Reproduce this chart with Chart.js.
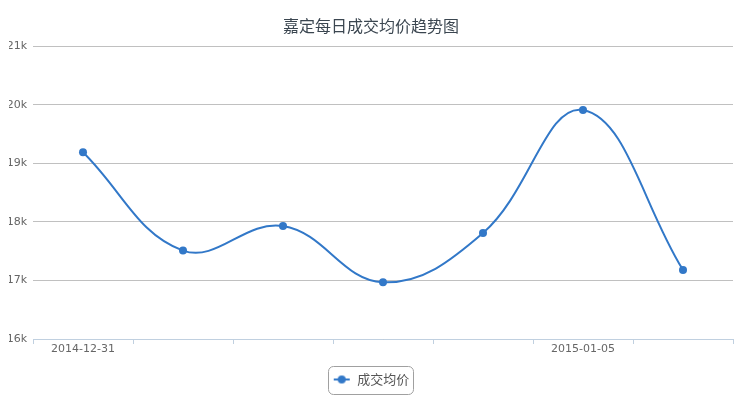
<!DOCTYPE html>
<html><head><meta charset="utf-8">
<script src="https://cdn.jsdelivr.net/npm/chart.js@4"></script>
<style>html,body{margin:0;padding:0;background:#fff}#wrap{width:742px;height:397px}</style>
</head><body><div id="wrap"><canvas id="c" width="742" height="397"></canvas></div>
<script>
const titleText = '嘉定每日成交均价趋势图';
const seriesName = '成交均价';
const categories = ['2014-12-31','2015-01-01','2015-01-02','2015-01-03','2015-01-04','2015-01-05','2015-01-06'];
const avgPrice = [19190, 17510, 17930, 16970, 17810, 19910, 17180];
const yMin = 16000, yMax = 21000, yStep = 1000;
const shownLabelEvery = 5;

const lineColor = '#3278c8';

// legend symbol: short line with a dot
const sym = document.createElement('canvas');
sym.width = 18; sym.height = 10;
(function(){
  const g = sym.getContext('2d');
  g.strokeStyle = lineColor; g.lineWidth = 2;
  g.beginPath(); g.moveTo(1,5); g.lineTo(17,5); g.stroke();
  g.fillStyle = lineColor; g.beginPath(); g.arc(9,5,4,0,Math.PI*2); g.fill();
})();

const legendBorder = {
  id: 'legendBorder',
  afterDraw(chart){
    const hb = chart.legend && chart.legend.legendHitBoxes;
    if(!hb || !hb.length) return;
    const b = hb[0];
    const ctx = chart.ctx;
    const x = Math.round(b.left - 5), y = Math.round(b.top - 7), w = Math.round(b.width + 8), h = 28;
    ctx.save();
    ctx.strokeStyle = '#a0a0a0'; ctx.lineWidth = 1;
    ctx.beginPath(); ctx.roundRect(x + 0.5, y + 0.5, w, h, 5); ctx.stroke();
    ctx.restore();
  }
};

new Chart(document.getElementById('c'), {
  type: 'line',
  data: {
    labels: categories,
    datasets: [{
      label: seriesName,
      data: avgPrice,
      borderColor: lineColor,
      backgroundColor: lineColor,
      borderWidth: 2,
      pointRadius: 4,
      pointBorderWidth: 0,
      pointBackgroundColor: lineColor,
      pointStyle: 'circle',
      tension: 0.4,
      fill: false
    }]
  },
  options: {
    responsive: false,
    animation: false,
    layout: { padding: { left: 9, right: 9, top: 0, bottom: 1 } },
    plugins: {
      tooltip: { enabled: false },
      title: {
        display: true, text: titleText, color: '#3b4650',
        font: { family: '"Noto Sans CJK SC", sans-serif', size: 16, weight: 'normal' },
        padding: { top: 16, bottom: 11 }
      },
      legend: {
        position: 'bottom',
        labels: {
          usePointStyle: true, pointStyle: sym, pointStyleWidth: 18,
          color: '#555', padding: 10,
          font: { family: '"Noto Sans CJK SC", sans-serif', size: 13 },
          generateLabels(chart){
            return [{ text: seriesName, pointStyle: sym, fillStyle: lineColor, strokeStyle: lineColor, lineWidth: 0, datasetIndex: 0, fontColor: '#555' }];
          }
        }
      }
    },
    scales: {
      x: {
        offset: true,
        afterFit(s){ s.height = 24; },
        grid: { display: true, offset: true, drawOnChartArea: false, drawTicks: true, tickLength: 5, color: '#C0D0E0' },
        border: { display: true, color: '#C0D0E0' },
        ticks: {
          autoSkip: false, maxRotation: 0, padding: -1, color: '#666',
          font: { family: '"DejaVu Sans", sans-serif', size: 11 },
          callback: (v, i) => (i % shownLabelEvery === 0 ? categories[i] : '')
        }
      },
      y: {
        min: yMin, max: yMax,
        afterFit(s){ s.width = 24; },
        grid: { color: '#C0C0C0', drawTicks: false },
        border: { display: false },
        ticks: {
          stepSize: yStep, padding: 6, color: '#666',
          font: { family: '"DejaVu Sans", sans-serif', size: 11 },
          callback: v => (v / 1000) + 'k'
        }
      }
    }
  },
  plugins: [legendBorder]
});
</script>
</body></html>
